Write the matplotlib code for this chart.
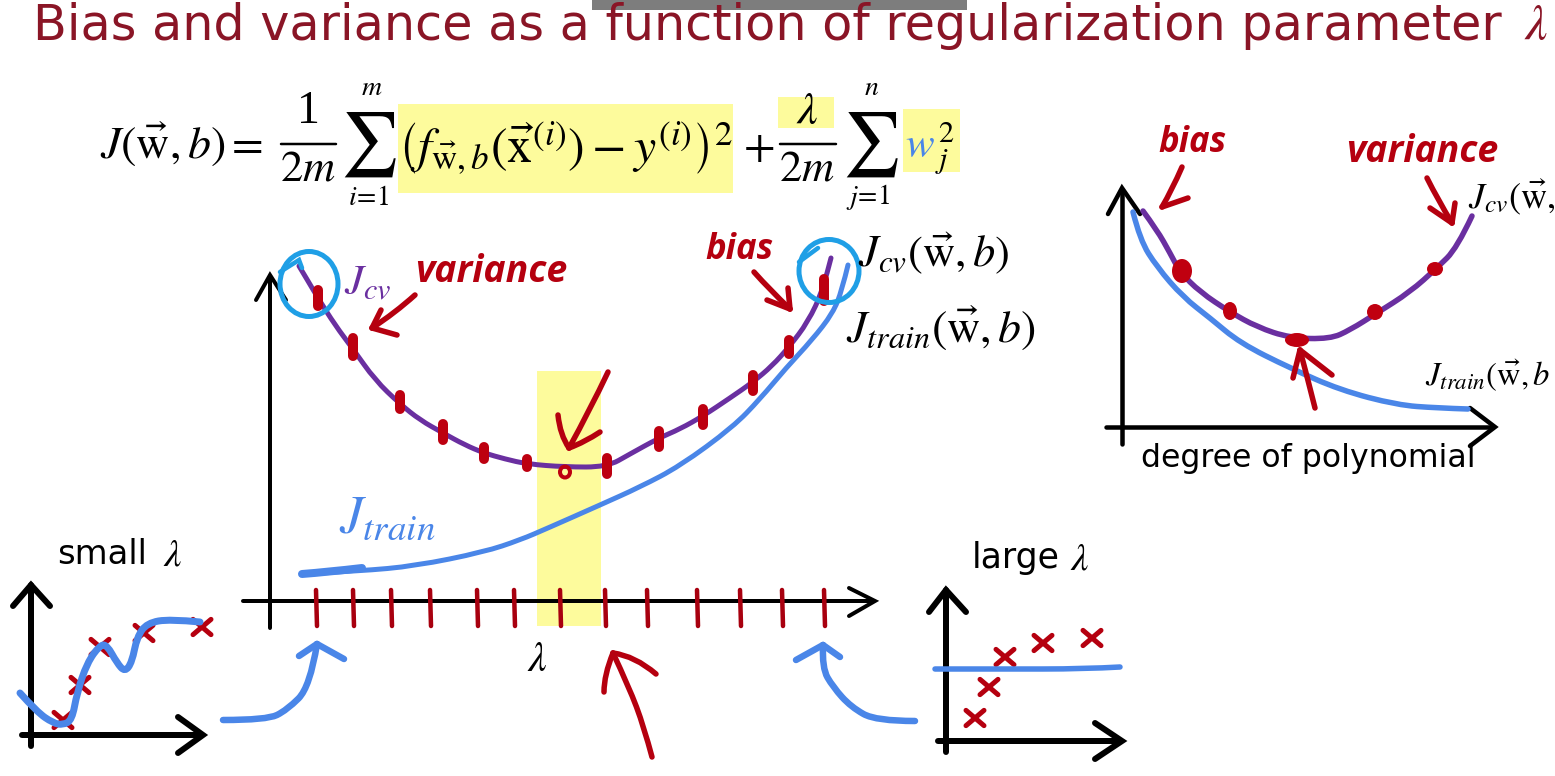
import matplotlib
matplotlib.use("Agg")
import matplotlib.pyplot as plt
from matplotlib.path import Path
from matplotlib.patches import PathPatch, Rectangle, Ellipse

plt.rcParams['mathtext.fontset'] = 'stix'
plt.rcParams['font.family'] = ['DejaVu Sans']

RED = '#B5000F'
BLUE = '#4A86E8'
PURPLE = '#6A2FA0'
CYAN = '#1F9FE6'
YELLOW = '#FDFB9C'
TITLE = '#8A1526'

# main chart curves
main_cv = [(299,266),(308,281),(318,298),(335,325),(353,349),(375,380),(400,404),(420,420),(443,433),(465,445),(484,453),(505,459),(527,464),(565,467),(607,467),(630,454),(659,438),(680,429),(703,416),(730,398),(753,382),(772,366),(789,347),(808,322),(823,290),(831,258)]
main_train = [(302,574),(360,571),(415,566),(484,552),(520,540),(548,528),(600,505),(640,487),(680,466),(733,427),(760,399),(786,368),(812,340),(833,313),(842,290),(848,265)]
main_train_thick = [(302,574),(328,572),(362,568)]
main_ticks_x = [316,353,391,430,477,514,560,605,647,697,740,782,824]
main_dots = [(318,298,8),(353,347,9),(400,402,7),(443,432,8),(484,453,6),(527,463,4),(607,466,8),(659,439,8),(703,417,8),(753,383,8),(789,347,7),(824,290,11)]

# right chart curves
right_cv = [(1143,211),(1157,230),(1170,253),(1180,272),(1200,292),(1230,312),(1257,327),(1290,338),(1330,339),(1350,330),(1377,313),(1410,292),(1437,268),(1457,248),(1472,216)]
right_train = [(1133,212),(1140,240),(1157,267),(1183,297),(1210,318),(1240,343),(1290,368),(1340,390),(1397,405),(1437,408),(1468,409)]
right_dots = [(1182,271,20,24),(1230,311,14,18),(1297,340,24,14),(1375,312,16,16),(1435,269,16,14)]

# small panels
small_fit = [(20,693),(37,712),(53,723),(63,725),(72,720),(77,693),(87,663),(100,645),(107,645),(117,663),(125,672),(132,662),(137,637),(147,623),(170,619),(200,622)]
small_x = [(63,720),(80,685),(100,647),(144,633),(202,627)]
large_fit = [(935,669),(1000,669),(1085,669),(1120,667)]
large_x = [(975,718),(989,687),(1005,657),(1043,643),(1092,638)]

# annotation strokes (smooth shafts, and barbs drawn as separate strokes)
strokes_red = [
    [(652,757),(644,727),(629,687),(613,653)],
    [(604,692),(604,675),(613,653)],
    [(613,653),(635,656),(656,674)],
    [(608,372),(590,410),(569,448)],
    [(558,415),(560,435),(569,448)],
    [(569,448),(585,442),(600,432)],
    [(415,295),(395,313),(372,328)],
    [(381,310),(372,328)],
    [(372,328),(397,335)],
    [(754,272),(770,290),(790,309)],
    [(767,300),(790,309)],
    [(788,288),(790,309)],
    [(1182,167),(1172,190),(1162,207)],
    [(1162,207),(1188,198)],
    [(1427,178),(1438,200),(1452,223)],
    [(1430,208),(1452,223)],
    [(1455,203),(1452,223)],
    [(1315,408),(1308,380),(1300,350)],
    [(1293,378),(1300,350)],
    [(1300,350),(1332,375)],
]
strokes_blue = [
    [(223,720),(267,720),(287,710),(310,687),(317,644)],
    [(299,656),(317,644)],
    [(317,644),(344,659)],
    [(915,721),(876,721),(851,707),(833,687),(822,668),(823,645)],
    [(796,660),(823,645)],
    [(823,645),(840,657)],
]
axes_black = [
    ([(270,628),(270,277)], [(256,300),(270,275),(286,300)], 4),
    ([(243,601),(872,601)], [(849,588),(875,601),(849,616)], 4),
    ([(1122,444),(1122,190)], [(1108,214),(1122,188),(1140,214)], 4.5),
    ([(1106,427),(1492,427)], [(1470,408),(1495,427),(1470,446)], 4.5),
    ([(31,746),(31,585)], [(13,606),(31,585),(50,606)], 6),
    ([(22,735),(200,735)], [(178,717),(203,735),(178,753)], 6),
    ([(946,752),(946,590)], [(929,612),(946,590),(966,612)], 6),
    ([(938,741),(1119,741)], [(1095,723),(1122,741),(1095,759)], 6),
]
yellow_boxes = [(398,104,335,89),(778,97,56,31),(903,109,57,63),(537,371,64,255)]
circles = [(309,284,58,65),(829,271,60,63)]

fig = plt.figure(figsize=(15.55,7.76), dpi=100, facecolor='white')
ax = fig.add_axes([0,0,1,1])
ax.set_xlim(0,1555); ax.set_ylim(776,0); ax.axis('off')

def px(w): return w*0.72

def curve(pts, color, w, z=3):
    verts=[pts[0]]; codes=[Path.MOVETO]
    for i in range(1,len(pts)-1):
        nxt = pts[i+1] if i==len(pts)-2 else ((pts[i][0]+pts[i+1][0])/2,(pts[i][1]+pts[i+1][1])/2)
        verts += [pts[i],nxt]; codes += [Path.CURVE3,Path.CURVE3]
    if len(pts)==2:
        verts.append(pts[1]); codes.append(Path.LINETO)
    ax.add_patch(PathPatch(Path(verts,codes),fill=False,edgecolor=color,lw=px(w),capstyle='round',joinstyle='round',zorder=z))

def line(pts,color,w,z=2):
    ax.plot([p[0] for p in pts],[p[1] for p in pts],color=color,lw=px(w),solid_capstyle='round',solid_joinstyle='miter',zorder=z)

for x,y,w,h in yellow_boxes:
    ax.add_patch(Rectangle((x,y),w,h,fc=YELLOW,ec='none',zorder=0))
ax.add_patch(Rectangle((592,0),375,10,fc='#7d7d7d',ec='none',zorder=1))

for shaft,head,w in axes_black:
    line(shaft,'black',w); line(head,'black',w)

for x in main_ticks_x:
    line([(x,590),(x+1,626)],'#A8000F',4.5,z=3)

curve(main_cv,PURPLE,5)
curve(main_train,BLUE,5)
curve(main_train_thick,BLUE,8)
curve(right_cv,PURPLE,5.5)
curve(right_train,BLUE,5.5)
curve(small_fit,BLUE,7,z=4)
curve(large_fit,BLUE,5.5,z=4)

for x,y,h in main_dots:
    line([(x,y-h),(x,y+h)],'#BD0010',10,z=5)
ax.add_patch(Ellipse((565,472),10,11,fill=False,ec='#BD0010',lw=px(4),zorder=5))
for x,y,w,h in right_dots:
    ax.add_patch(Ellipse((x,y),w,h,fc='#C00010',ec='none',zorder=5))

for xs in (small_x,large_x):
    for x,y in xs:
        d=9
        line([(x-d,y-d*.85),(x+d,y+d*.85)],RED,5,z=3)
        line([(x-d,y+d*.85),(x+d,y-d*.85)],RED,5,z=3)

for s in strokes_red: curve(s,RED,5.5)
for s in strokes_blue: curve(s,BLUE,6.5)

for cx,cy,w,h in circles:
    ax.add_patch(Ellipse((cx,cy),w,h,fill=False,ec=CYAN,lw=px(5),zorder=6))
line([(280,272),(299,260),(302,268)],CYAN,4.5,z=6)
line([(799,262),(818,248)],CYAN,4.5,z=6)

def T(x,y,s,size,color='black',ha='left',va='center',**k):
    ax.text(x,y,s,fontsize=size,color=color,ha=ha,va=va,zorder=8,**k)

T(33,26,'Bias and variance as a function of regularization parameter',35.5,TITLE)
T(1524,25,r'$\lambda$',36,TITLE)

# cost-function formula
T(100,144,r'$J(\vec{\mathrm{w}},b)=$',33)
T(308,112,'1',33,ha='center',family='Liberation Serif')
T(308,168,r'$2m$',32,ha='center')
line([(281,144),(336,144)],'black',2.5)
T(368,145,r'$\sum$',46,ha='center')
T(372,87,r'$m$',20,ha='center')
T(368,197,r'$i\!=\!1$',20,ha='center')
T(398,148,r'$\left(f_{\vec{\mathrm{w}},b}\left(\vec{\mathrm{x}}^{(i)}\right)-y^{(i)}\right)^2$',36)
T(743,147,r'$+$',33)
T(807,112,r'$\lambda$',33,ha='center')
T(807,168,r'$2m$',32,ha='center')
line([(780,144),(836,144)],'black',2.5)
T(870,145,r'$\sum$',46,ha='center')
T(872,87,r'$n$',20,ha='center')
T(868,197,r'$j\!=\!1$',20,ha='center')
T(905,145,r'$w$',31,BLUE)
T(935,148,r'$_{j}^{2}$',31)

# labels
T(344,283,r'$J_{cv}$',31,PURPLE)
T(339,518,r'$J_{train}$',38,BLUE)
T(858,254,r'$J_{cv}(\vec{\mathrm{w}},b)$',32)
T(846,328,r'$J_{train}(\vec{\mathrm{w}},b)$',33)
T(1468,197,r'$J_{cv}(\vec{\mathrm{w}},$',26)
T(1425,375,r'$J_{train}(\vec{\mathrm{w}},b$',23.5)
T(537,659,r'$\lambda$',30,ha='center')
T(57,554,'small',24.3); T(163,554,r'$\lambda$',28)
T(972,558,'large',25); T(1070,558,r'$\lambda$',28)
T(1141,459,'degree of polynomial',22.7)

hand = dict(family='Open Sans',fontweight='bold',style='italic')
T(415,272,'variance',27,RED,**hand)
T(705,250,'bias',25,RED,**hand)
T(1158,143,'bias',25,RED,**hand)
T(1346,152,'variance',27,RED,**hand)

fig.savefig('out.png',dpi=100)
